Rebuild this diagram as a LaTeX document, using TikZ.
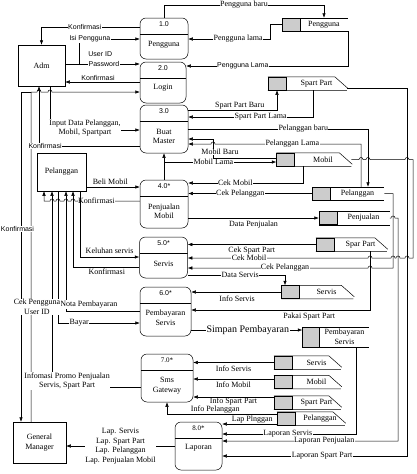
\documentclass[tikz,border=0pt]{standalone}
\usepackage{fontspec}
\setmainfont{Liberation Serif}
\setsansfont{Liberation Sans}
\usetikzlibrary{arrows.meta,positioning}

\begin{document}
\begin{tikzpicture}[x=1pt,y=-1pt,>={Latex[length=4.5pt,width=3.5pt]},line width=0.5pt,
  font=\fontsize{8}{9.5}\selectfont,
  ent/.style={draw,inner sep=0pt,align=center},
  proc/.style={draw,rounded corners=6pt,minimum width=48pt,inner sep=0pt,
    path picture={\draw ([yshift=-16pt]path picture bounding box.north west) -- ([yshift=-16pt]path picture bounding box.north east);}},
  pnum/.style={anchor=north,yshift=-3.5pt,inner sep=0pt,font=\sffamily\fontsize{7}{8}\selectfont},
  ptxt/.style={align=center,inner sep=0pt},
  sid/.style={draw,fill=black!20,minimum width=18pt,minimum height=13pt,inner sep=0pt},
  stor/.style={minimum height=13pt,inner sep=0pt,align=center},
  lbl/.style={fill=white,inner sep=0.4pt,align=center},
  lbls/.style={fill=white,inner sep=0.4pt,font=\sffamily\fontsize{7}{8}\selectfont}]

\useasboundingbox (0,0) rectangle (416,474);

% entitas luar
\node[ent,minimum width=47pt,minimum height=41pt] (adm) at (41.5,65.5) {Adm};
\node[ent,minimum width=49pt,minimum height=38pt] (pel) at (61.5,172) {Pelanggan};
\node[ent,minimum width=53pt,minimum height=41pt] (gm) at (39.5,442.5) {General\\Manager};

% proses
\node[proc,minimum height=41pt,label={[pnum]north:1.0}] (p1) at (164,38.5) {};
\node[ptxt] (p1t) at ([yshift=-6pt]p1.center) {Pengguna};
\node[proc,minimum width=46pt,minimum height=41pt,label={[pnum]north:2.0}] (p2) at (163,82.5) {};
\node[ptxt] (p2t) at ([yshift=-5pt]p2.center) {Login};
\node[proc,minimum height=48pt,label={[pnum]north:3.0}] (p3) at (164,129) {};
\node[ptxt] (p3t) at ([yshift=-7.5pt]p3.center) {Buat\\Master};
\node[proc,minimum height=48pt,label={[pnum]north:4.0*}] (p4) at (164,204) {};
\node[ptxt] (p4t) at ([yshift=-7.5pt]p4.center) {Penjualan\\Mobil};
\node[proc,minimum height=41pt,label={[pnum]north:5.0*}] (p5) at (163.5,257.5) {};
\node[ptxt] (p5t) at ([yshift=-6.5pt]p5.center) {Servis};
\node[proc,minimum width=51pt,minimum height=49pt,label={[pnum]north:6.0*}] (p6) at (165.5,311.5) {};
\node[ptxt] (p6t) at ([yshift=-6.5pt]p6.center) {Pembayaran\\Servis};
\node[proc,minimum width=52pt,minimum height=48pt,label={[pnum,font=\fontsize{7}{8}\selectfont]north:7.0*}] (p7) at (167,378) {};
\node[ptxt] (p7t) at ([yshift=-7.5pt]p7.center) {Sms\\Gateway};
\node[proc,minimum width=47pt,minimum height=48pt,label={[pnum,font=\fontsize{7}{8}\selectfont]north:8.0*}] (p8) at (198.5,446) {};
\node[ptxt] (p8t) at ([yshift=-2pt]p8.center) {Laporan};

% data store
\node[sid] (stPenggunaId) at (291,24.5) {};
\node[stor,minimum width=47pt,right=0pt of stPenggunaId] (stPengguna) {Pengguna};
\draw (stPenggunaId.north west) -- (stPengguna.north east) (stPenggunaId.south west) -- (stPengguna.south east);

\node[sid] (stSpartId) at (277,83.5) {};
\node[stor,minimum width=60pt,right=0pt of stSpartId] (stSpart) {Spart Part};
\draw (stSpartId.north west) -- ([xshift=-12pt]stSpart.north east) -- ([xshift=1pt,yshift=2pt]stSpart.south east)
  (stSpartId.south west) -- (stSpart.south east);

\node[sid] (stMobilId) at (285.5,159.5) {};
\node[stor,minimum width=56pt,right=0pt of stMobilId] (stMobil) {Mobil};
\draw (stMobilId.north west) -- ([xshift=-12pt]stMobil.north east) -- ([xshift=1pt,yshift=2pt]stMobil.south east)
  (stMobilId.south west) -- (stMobil.south east);

\node[sid] (stPelangganId) at (321.5,193.5) {};
\node[stor,minimum width=53pt,right=0pt of stPelangganId] (stPelanggan) {Pelanggan};
\draw (stPelangganId.north west) -- (stPelanggan.north east) (stPelangganId.south west) -- (stPelanggan.south east);

\node[sid] (stPenjualanId) at (328,218) {};
\node[stor,minimum width=52pt,right=0pt of stPenjualanId] (stPenjualan) {Penjualan};
\draw (stPenjualanId.north west) -- (stPenjualan.north east) (stPenjualanId.south west) -- (stPenjualan.south east);

\node[sid] (stSparPartId) at (325,244.5) {};
\node[stor,minimum width=52pt,right=0pt of stSparPartId] (stSparPart) {Spar Part};
\draw (stSparPartId.north west) -- ([xshift=-12pt]stSparPart.north east) -- ([xshift=1pt,yshift=2pt]stSparPart.south east)
  (stSparPartId.south west) -- (stSparPart.south east);

\node[sid] (stServisId) at (290.5,292) {};
\node[stor,minimum width=53pt,right=0pt of stServisId] (stServis) {Servis};
\draw (stServisId.north west) -- ([xshift=-12pt]stServis.north east) -- ([xshift=1pt,yshift=2pt]stServis.south east)
  (stServisId.south west) -- (stServis.south east);

\node[sid,minimum width=17pt,minimum height=20pt] (stPembayaranId) at (311,337) {};
\node[stor,minimum width=49pt,minimum height=20pt,right=0pt of stPembayaranId] (stPembayaran) {Pembayaran\\Servis};
\draw (stPembayaranId.north west) -- (stPembayaran.north east) (stPembayaranId.south west) -- (stPembayaran.south east);

\node[sid] (stServis2Id) at (283,362.5) {};
\node[stor,minimum width=48pt,right=0pt of stServis2Id] (stServis2) {Servis};
\draw (stServis2Id.north west) -- ([xshift=-12pt]stServis2.north east) -- ([xshift=1pt,yshift=2pt]stServis2.south east)
  (stServis2Id.south west) -- (stServis2.south east);

\node[sid] (stMobil2Id) at (283,382) {};
\node[stor,minimum width=48pt,right=0pt of stMobil2Id] (stMobil2) {Mobil};
\draw (stMobil2Id.north west) -- ([xshift=-12pt]stMobil2.north east) -- ([xshift=1pt,yshift=2pt]stMobil2.south east)
  (stMobil2Id.south west) -- (stMobil2.south east);

\node[sid] (stSpart2Id) at (283,402.5) {};
\node[stor,minimum width=48pt,right=0pt of stSpart2Id] (stSpart2) {Spart Part};
\draw (stSpart2Id.north west) -- ([xshift=-12pt]stSpart2.north east) -- ([xshift=1pt,yshift=2pt]stSpart2.south east)
  (stSpart2Id.south west) -- (stSpart2.south east);

\node[sid] (stPelanggan2Id) at (286,418.5) {};
\node[stor,minimum width=49pt,right=0pt of stPelanggan2Id] (stPelanggan2) {Pelanggan};
\draw (stPelanggan2Id.north west) -- ([xshift=-12pt]stPelanggan2.north east) -- ([xshift=1pt,yshift=2pt]stPelanggan2.south east)
  (stPelanggan2Id.south west) -- (stPelanggan2.south east);

% Adm
\draw[->] (p1.west |- 0,27) -| node[lbls,pos=0.28] {Konfirmasi} (adm.north);
\draw[->] (adm.east |- 0,64) -- (79,64) -- (79,39) -- node[lbls,pos=0.18] {Isi Pengguna} (p1.west |- 0,39);
\draw[->] (adm.east |- 0,64) -- node[lbls,pos=0.52] {Password} node[lbls,pos=0.47,yshift=10pt,fill=none] {User ID} (p2.west |- 0,64);
\draw[->] (p2.west |- 0,82) -- node[lbls,pos=0.56,yshift=4.5pt,fill=none] {Konfirmasi} (adm.east |- 0,82);
\draw[->] (adm.south -| 50,0) -- (50,130) -- node[lbl,pos=0.39,yshift=2pt] {Input Data Pelanggan,\\Mobil, Spartpart} (p3.west |- 0,130);

% General Manager - Login
\draw[->] (gm.north -| 31,0) -- (31,92) -- (37,92) arc[start angle=180,end angle=0,radius=2pt]
  -- (48,92) arc[start angle=180,end angle=0,radius=2pt] -- (p2.west |- 0,92);
\coordinate (jLogin) at (31,92);
\draw[->] (jLogin) -- (21,92) -- node[lbls,pos=0.415,xshift=-3.5pt] {Konfirmasi} (gm.north -| 21,0);
\draw[->] (p3.west |- 0,146) -- node[lbls,pos=0.94] {Konfirmasi} (39,146) -- (adm.south -| 39,0);

% Pelanggan
\draw[->] (pel.east |- 0,187) -- node[lbl,pos=0.45,yshift=5.5pt,fill=none] {Beli Mobil} (p4.west |- 0,187);
\draw[->] (p4.west |- 0,201) -- node[lbl,pos=0.75] {Konfirmasi} (82,201) arc[start angle=0,end angle=180,radius=2pt]
  -- (75,201) arc[start angle=0,end angle=180,radius=2pt] -- (68,201) arc[start angle=0,end angle=180,radius=2pt]
  -- (60,201) arc[start angle=0,end angle=180,radius=2pt] -- (54,201) arc[start angle=0,end angle=180,radius=2pt]
  -- (44,201) -- (pel.south -| 44,0);
\draw[->] (pel.south -| 80,0) -- (80,257) -- node[lbl,pos=0.5,yshift=6pt,fill=none] {Keluhan servis} (p5.west |- 0,257);
\draw[->] (p5.west |- 0,267) -- node[lbl,pos=0.49,yshift=-5pt,fill=none] {Konfirmasi} (73,267) -- (pel.south -| 73,0);
\draw[->] (pel.south -| 58,0) -- (58,323) -- node[lbl,pos=0.26] {Bayar} (p6.west |- 0,323);
\draw[->] (p6.west |- 0,311) -- node[lbl,pos=0.69,yshift=6.5pt] {Nota Pembayaran} (66,311) -- (pel.south -| 66,0);
\draw[->] (p7.west |- 0,387) -- node[lbl,pos=0.83,yshift=6pt] {Infomasi Promo Penjualan\\Servis, Spart Part} (52,387) -- (pel.south -| 52,0);
\node[lbl] (lCek) at (37,307) {Cek Pengguna\\User ID};

% General Manager - Laporan
\draw[->] (p8.west |- 0,446) -- node[lbl,pos=0.5] {Lap. Servis\\Lap. Spart Part\\Lap. Pelanggan\\Lap. Penjualan Mobil} (gm.east |- 0,446);

% Pengguna
\draw[->] (p1.north) -- (p1.north |- 0,5) -| node[lbl,pos=0.25] {Pengguna baru} (stPengguna.north);
\draw[->] (stPenggunaId.west) -- (270,24.5) -- (270,39) -- node[lbl,pos=0.39] {Pengguna lama} (p1.east |- 0,39);
\draw[->] (stPengguna.south east) -- (stPengguna.south east |- 0,66) -- node[lbls,pos=0.65] {Pengguna Lama} (p2.east |- 0,66);

% Buat Master
\draw[->] (p3.east |- 0,110) -| node[lbl,pos=0.29,yshift=4.5pt,fill=none] {Spart Part Baru} (stSpartId.south);
\draw[->] (stSpart.south -| 313,0) -- (313,117) -- node[lbl,pos=0.42] {Spart Part Lama} (p3.east |- 0,117);
\draw[->] (p3.east |- 0,129) -| node[lbl,pos=0.32] {Pelanggan baru} (stPelanggan.north -| 368,0);
\draw[->] (stPelanggan.north -| 361,0) -- (361,144) -- node[lbl,pos=0.47] {Pelanggan Lama} (215,144)
  arc[start angle=0,end angle=180,radius=2pt] -- (p3.east |- 0,144);
\draw[->] (stMobilId.west |- 0,158) -- node[lbl,pos=0.89,yshift=6pt] {Mobil Baru} (213,158) -- (213,139) -- (p3.east |- 0,139);
\draw[->] (p4.north) -- (p3.south);
\draw[->] (p4.north) |- node[lbl,pos=0.72] {Mobil Lama} (stMobilId.west |- 0,162);

% Penjualan Mobil
\draw[->] (stMobil.south -| 303,0) -- (303,183) -- node[lbl,pos=0.59] {Cek Mobil} (p4.east |- 0,183);
\draw[->] (stPelangganId.west) -- node[lbl,pos=0.58] {Cek Pelanggan} (p4.east |- stPelangganId.west);
\draw[->] (p4.east |- stPenjualanId.west) -- node[lbl,pos=0.5,yshift=-6.5pt,fill=none] {Data Penjualan} (stPenjualanId.west);

% Servis
\draw[->] (stSparPartId.west) -- node[lbl,pos=0.5,yshift=-6.5pt,fill=none] {Cek Spart Part} (p5.east |- stSparPartId.west);
\draw[->] (stMobil.east) -- (359,159.5) arc[start angle=180,end angle=0,radius=2pt]
  -- (366,159.5) arc[start angle=180,end angle=0,radius=2pt] -- (405,159.5) arc[start angle=180,end angle=0,radius=2pt]
  -- (413,159.5) -- (413,258) -- (409,258) arc[start angle=0,end angle=180,radius=2pt]
  -- (400,258) arc[start angle=0,end angle=180,radius=2pt] -- (395,258) arc[start angle=0,end angle=180,radius=2pt]
  -- (372,258) arc[start angle=0,end angle=180,radius=2pt] -- node[lbl,pos=0.66] {Cek Mobil} (p5.east |- 0,258);
\draw[->] (stPelanggan.east) -- (393,193.5) -- (393,268) -- (372,268) arc[start angle=0,end angle=180,radius=2pt]
  -- node[lbl,pos=0.46] {Cek Pelanggan} (p5.east |- 0,268);
\draw[->] (p5.east |- 0,275) -| node[lbl,pos=0.27] {Data Servis} (stServisId.north -| 285,0);

% Pembayaran Servis
\draw[->] (stServisId.west) -- node[lbl,pos=0.49,yshift=-6.5pt,fill=none] {Info Servis} (p6.east |- stServisId.west);
\draw[->] (stSparPart.south -| 370,0) -- (370,310) -- node[lbl,pos=0.34,yshift=-7pt,fill=none] {Pakai Spart Part} (p6.east |- 0,310);
\draw[->] (p6.east |- 0,330) -- node[lbl,pos=0.51,font=\fontsize{10}{12}\selectfont] {Simpan Pembayaran} (stPembayaranId.west |- 0,330);

% Laporan
\draw[->] (stPembayaran.south -| 356,0) -- (356,434) -- node[lbl,pos=0.51] {Laporan Servis} (p8.east |- 0,434);
\draw[->] (stPenjualan.east) -- (391,218) arc[start angle=180,end angle=0,radius=2pt] -- (398,218) -- (398,441)
  -- node[lbl,pos=0.42] {Laporan Penjualan} (p8.east |- 0,441);
\draw[->] (stSpart.east |- 0,88) -- (407,88) -- (407,456) -- node[lbl,pos=0.46] {Laporan Spart Part} (p8.east |- 0,456);

% Sms Gateway
\draw[->] (stServis2Id.west) -- node[lbl,pos=0.5,yshift=-6pt,fill=none] {Info Servis} (p7.east |- stServis2Id.west);
\draw[->] (stMobil2Id.west |- 0,379) -- node[lbl,pos=0.5,yshift=-6pt,fill=none] {Info Mobil} (p7.east |- 0,379);
\draw[->] (stSpart2Id.west |- 0,397) -- node[lbl,pos=0.5,yshift=-5pt,fill=none] {Info Spart Part} (p7.east |- 0,397);
\draw[->] (stPelanggan2Id.west |- 0,414) -| node[lbl,pos=0.28,yshift=4.5pt,fill=none] {Info Pelanggan} (p7.south);
\draw[->] (stPelanggan2Id.west |- 0,424) -- node[lbl,pos=0.45,yshift=4.5pt] {Lap Plnggan} (p8.east |- 0,424);

\end{tikzpicture}
\end{document}
